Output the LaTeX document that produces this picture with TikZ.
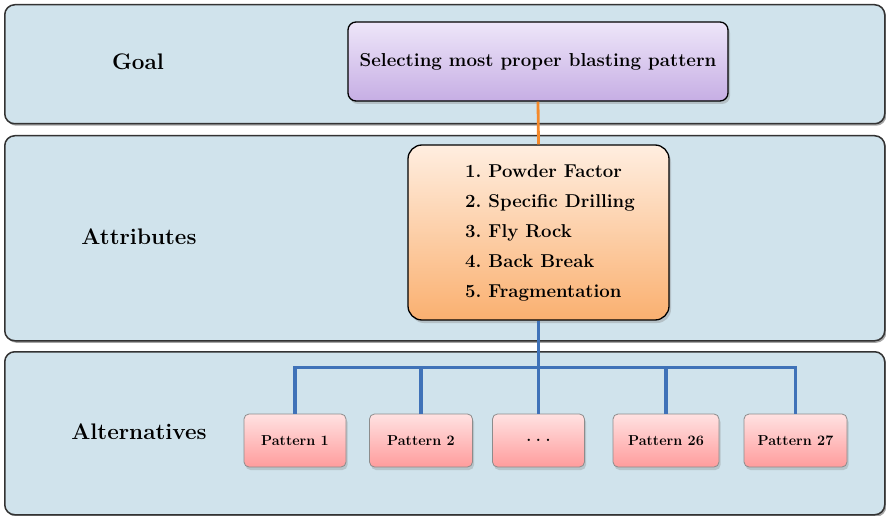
\documentclass[tikz,border=0pt]{standalone}
\usetikzlibrary{shadows}
\definecolor{bandfill}{HTML}{D0E3EC}
\definecolor{bandedge}{HTML}{333333}
\definecolor{goaltop}{HTML}{EEE6F9}
\definecolor{goalbot}{HTML}{C6AEE4}
\definecolor{attrtop}{HTML}{FFEEE0}
\definecolor{attrbot}{HTML}{FAB070}
\definecolor{pattop}{HTML}{FFE2E2}
\definecolor{patbot}{HTML}{FF9C9C}
\definecolor{orangeline}{HTML}{F5892A}
\definecolor{blueline}{HTML}{3F72B8}
\tikzset{
  band/.style={draw=bandedge, line width=1.5pt, fill=bandfill, rounded corners=10pt,
    anchor=north west, minimum width=880pt, inner sep=0pt,
    drop shadow={shadow xshift=1.5pt, shadow yshift=-2pt, opacity=0.5, fill=black!70}},
  bandlabel/.style={font=\fontsize{22.5}{26}\selectfont\bfseries, inner sep=0pt},
  goalbox/.style={draw=black, line width=1.3pt, rounded corners=8pt, top color=goaltop, bottom color=goalbot,
    minimum width=380pt, minimum height=79pt, inner sep=0pt,
    font=\fontsize{18.7}{22}\selectfont\bfseries,
    drop shadow={shadow xshift=2pt, shadow yshift=-3pt, opacity=0.35}},
  attrbox/.style={draw=black, line width=1.3pt, rounded corners=14pt, top color=attrtop, bottom color=attrbot,
    minimum width=261pt, minimum height=175pt, inner sep=0pt,
    drop shadow={shadow xshift=2pt, shadow yshift=-3pt, opacity=0.35}},
  attrtext/.style={font=\fontsize{18.6}{30}\selectfont\bfseries, align=left, inner sep=0pt, anchor=west},
  patbox/.style={draw=black!45, line width=0.8pt, rounded corners=5pt, top color=pattop, bottom color=patbot,
    minimum height=53pt, inner sep=0pt, font=\fontsize{14.4}{17}\selectfont\bfseries,
    drop shadow={shadow xshift=1.5pt, shadow yshift=-3pt, opacity=0.3}},
  oline/.style={draw=orangeline, line width=2.8pt},
  bline/.style={draw=blueline, line width=3.5pt},
}
\begin{document}
\frenchspacing
\begin{tikzpicture}[x=1pt,y=-1pt]
\useasboundingbox (0,0) rectangle (886,516);
% bands
\node[band, minimum height=119pt] (band1) at (4,4) {};
\node[band, minimum height=205pt] (band2) at (4,135) {};
\node[band, minimum height=163pt] (band3) at (4,351) {};
% band labels
\node[bandlabel] (lgoal) at (138,62) {Goal};
\node[bandlabel] (lattr) at (139,237) {Attributes};
\node[bandlabel] (lalt) at (139,432) {Alternatives};
% goal
\node[goalbox] (goal) at (538,61.5) {Selecting most proper blasting pattern};
% attributes
\node[attrbox] (attr) at (538.5,232.5) {};
\node[attrtext] (attrtxt) at (465,232.5) {1. Powder Factor\\2. Specific Drilling\\3. Fly Rock\\4. Back Break\\5. Fragmentation};
% patterns
\node[patbox, minimum width=102pt] (p1) at (295,440.5) {Pattern 1};
\node[patbox, minimum width=103pt] (p2) at (421,440.5) {Pattern 2};
\node[patbox, minimum width=92pt] (pd) at (538.5,440.5) {{\fontsize{16}{17}\selectfont.\hspace{4.5pt}.\hspace{4.5pt}.}};
\node[patbox, minimum width=106pt] (p26) at (666,440.5) {Pattern 26};
\node[patbox, minimum width=103pt] (p27) at (795.5,440.5) {Pattern 27};
\coordinate (bar) at (538.5,367.5);
% connectors
\draw[oline] (goal.south) -- (attr.north);
\draw[bline] (attr.south) -- (pd.north);
\draw[bline] (p1.north) -- (p1.north |- bar) -- (p27.north |- bar) -- (p27.north);
\draw[bline] (p2.north |- bar) -- (p2.north);
\draw[bline] (p26.north |- bar) -- (p26.north);
\end{tikzpicture}
\end{document}
